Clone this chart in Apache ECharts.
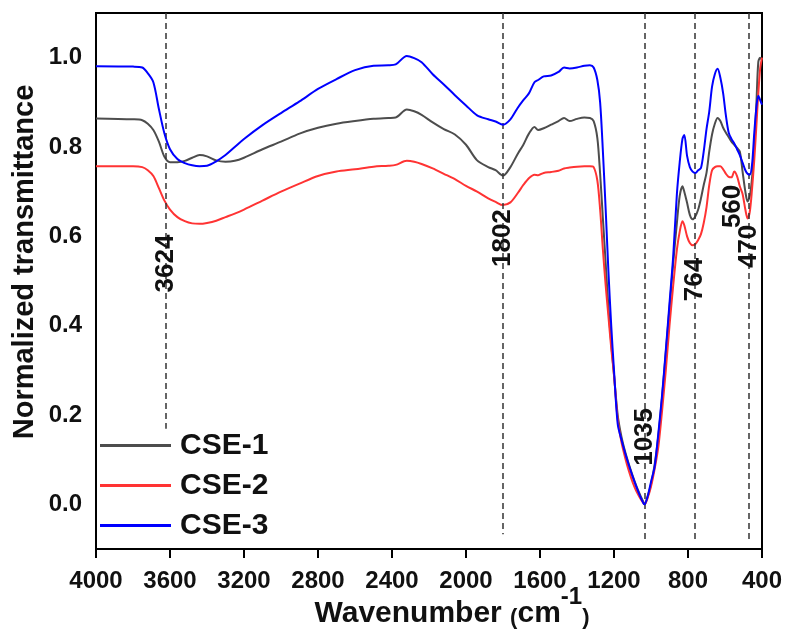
<!DOCTYPE html>
<html>
<head>
<meta charset="utf-8">
<script src="https://cdn.jsdelivr.net/npm/echarts@6/dist/echarts.min.js"></script>
<style>
  html, body { margin: 0; padding: 0; background: #fff; }
  #chart { width: 788px; height: 630px; }
</style>
</head>
<body>
<div id="chart"></div>
<script>
// FTIR spectra of three CSE samples (normalized transmittance vs wavenumber)
const wavenumbers = [4000, 3800, 3750, 3720, 3690, 3660, 3630, 3600, 3560, 3520, 3480, 3440, 3400, 3350, 3300, 3250, 3200, 3100, 3000, 2900, 2800, 2700, 2600, 2500, 2420, 2380, 2320, 2280, 2240, 2180, 2120, 2060, 2000, 1940, 1880, 1840, 1800, 1760, 1720, 1690, 1660, 1630, 1610, 1580, 1540, 1500, 1470, 1440, 1400, 1360, 1330, 1310, 1290, 1275, 1260, 1245, 1230, 1215, 1200, 1180, 1160, 1140, 1120, 1100, 1080, 1060, 1040, 1035, 1020, 1000, 980, 960, 940, 920, 900, 880, 860, 845, 830, 820, 805, 790, 775, 760, 745, 730, 715, 700, 685, 670, 655, 640, 625, 610, 595, 580, 565, 550, 535, 520, 505, 490, 478, 466, 454, 442, 430, 420, 410, 400];

const cse1 = [0.864, 0.862, 0.860, 0.852, 0.838, 0.812, 0.778, 0.766, 0.766, 0.769, 0.776, 0.782, 0.779, 0.770, 0.767, 0.769, 0.776, 0.795, 0.812, 0.830, 0.843, 0.852, 0.858, 0.863, 0.865, 0.866, 0.884, 0.880, 0.872, 0.855, 0.840, 0.828, 0.805, 0.770, 0.755, 0.748, 0.736, 0.755, 0.785, 0.805, 0.830, 0.845, 0.838, 0.842, 0.850, 0.858, 0.865, 0.858, 0.863, 0.866, 0.865, 0.858, 0.820, 0.740, 0.640, 0.540, 0.440, 0.360, 0.290, 0.200, 0.152, 0.118, 0.090, 0.065, 0.042, 0.022, 0.004, 0.000, 0.015, 0.045, 0.090, 0.155, 0.240, 0.340, 0.440, 0.540, 0.630, 0.690, 0.712, 0.700, 0.675, 0.648, 0.638, 0.645, 0.660, 0.685, 0.715, 0.742, 0.790, 0.828, 0.852, 0.865, 0.858, 0.843, 0.832, 0.822, 0.812, 0.805, 0.798, 0.790, 0.745, 0.700, 0.678, 0.690, 0.730, 0.800, 0.900, 0.990, 1.000, 0.995];

const cse2 = [0.757, 0.757, 0.755, 0.748, 0.735, 0.708, 0.680, 0.660, 0.643, 0.634, 0.629, 0.628, 0.630, 0.635, 0.643, 0.651, 0.660, 0.680, 0.700, 0.718, 0.735, 0.745, 0.750, 0.756, 0.758, 0.760, 0.769, 0.767, 0.762, 0.752, 0.740, 0.728, 0.713, 0.700, 0.685, 0.677, 0.670, 0.676, 0.697, 0.715, 0.730, 0.738, 0.737, 0.742, 0.744, 0.747, 0.752, 0.754, 0.756, 0.757, 0.757, 0.755, 0.725, 0.660, 0.570, 0.490, 0.420, 0.350, 0.290, 0.190, 0.140, 0.105, 0.075, 0.050, 0.030, 0.015, 0.002, 0.000, 0.012, 0.040, 0.080, 0.130, 0.210, 0.300, 0.400, 0.490, 0.570, 0.610, 0.634, 0.625, 0.600, 0.585, 0.580, 0.583, 0.592, 0.605, 0.630, 0.665, 0.715, 0.748, 0.755, 0.757, 0.757, 0.750, 0.740, 0.733, 0.732, 0.745, 0.735, 0.712, 0.695, 0.660, 0.640, 0.655, 0.705, 0.770, 0.850, 0.920, 0.975, 1.000];

const cse3 = [0.981, 0.980, 0.978, 0.965, 0.945, 0.885, 0.830, 0.795, 0.773, 0.764, 0.759, 0.757, 0.758, 0.768, 0.782, 0.800, 0.818, 0.849, 0.876, 0.902, 0.930, 0.952, 0.972, 0.982, 0.983, 0.985, 1.004, 0.999, 0.990, 0.963, 0.940, 0.916, 0.893, 0.871, 0.862, 0.857, 0.850, 0.862, 0.888, 0.905, 0.920, 0.945, 0.950, 0.958, 0.960, 0.968, 0.978, 0.976, 0.978, 0.982, 0.983, 0.978, 0.950, 0.900, 0.790, 0.660, 0.520, 0.400, 0.300, 0.180, 0.145, 0.115, 0.088, 0.063, 0.040, 0.019, 0.002, 0.000, 0.015, 0.050, 0.085, 0.160, 0.245, 0.345, 0.450, 0.555, 0.695, 0.765, 0.818, 0.827, 0.780, 0.755, 0.745, 0.742, 0.748, 0.753, 0.790, 0.840, 0.880, 0.935, 0.963, 0.975, 0.955, 0.920, 0.870, 0.832, 0.818, 0.808, 0.795, 0.782, 0.765, 0.748, 0.740, 0.738, 0.760, 0.830, 0.890, 0.915, 0.905, 0.895];

const seriesNames = ['CSE-1', 'CSE-2', 'CSE-3'];
const seriesColors = ['#4d4d4d', '#ff3333', '#0000ff'];

// Band positions marked with dashed guides, and where each guide stops at the bottom
const bandLines = [3624, 1802, 1035, 764, 470];
const bandLineEnds = [0.169, -0.067, -0.08, -0.085, -0.08];

// Band annotations (wavenumber, vertical centre of the rotated label)
const bandLabelX = [3624, 1802, 1035, 764, 560, 470];
const bandLabelY = [0.539, 0.596, 0.151, 0.492, 0.667, 0.573];
const bandLabelShift = [0, 0, 0, 5, 0, 2];

const xTicks = [4000, 3600, 3200, 2800, 2400, 2000, 1600, 1200, 800, 400];
const yTicks = [0.0, 0.2, 0.4, 0.6, 0.8, 1.0];

const FONT = 'Liberation Sans, Arial, sans-serif';

const chart = echarts.init(document.getElementById('chart'), null, { renderer: 'canvas' });

const lineSeries = seriesNames.map((name, i) => {
  const vals = [cse1, cse2, cse3][i];
  return {
    name: name,
    type: 'line',
    data: wavenumbers.map((w, k) => [w, vals[k]]),
    showSymbol: false,
    smooth: 0.3,
    color: seriesColors[i],
    lineStyle: { width: 2, color: seriesColors[i] },
    z: 3 + i
  };
});

const guideSeries = {
  name: 'guides',
  type: 'line',
  data: [],
  silent: true,
  markLine: {
    silent: true,
    symbol: ['none', 'none'],
    label: { show: false },
    lineStyle: { type: [6, 4], color: '#333', width: 1.5 },
    data: bandLines.map((w, i) => [
      { coord: [w, 1.1] },
      { coord: [w, bandLineEnds[i]] }
    ])
  },
  z: 2
};

const labelSeries = {
  name: 'bands',
  type: 'scatter',
  silent: true,
  symbolSize: 0,
  itemStyle: { opacity: 1 },
  data: bandLabelX.map((w, i) => [w, bandLabelY[i]]),
  label: {
    show: true,
    position: 'inside',
    rotate: 90,
    formatter: p => String(p.value[0]),
    fontFamily: FONT,
    fontWeight: 'bold',
    fontSize: 26,
    color: '#111',
    opacity: 1,
    textBorderWidth: 0
  },
  labelLayout: p => ({ dx: bandLabelShift[p.dataIndex] }),
  z: 10
};

chart.setOption({
  animation: false,
  backgroundColor: '#fff',
  grid: {
    left: 96, right: 26, top: 13, bottom: 81,
    containLabel: false,
    outerBoundsMode: 'none',
    show: true, borderColor: '#000', borderWidth: 2
  },
  legend: {
    data: seriesNames,
    orient: 'vertical',
    left: 100,
    top: 430,
    padding: 0,
    icon: 'rect',
    itemWidth: 71,
    itemHeight: 3,
    itemGap: 9,
    textStyle: {
      fontFamily: FONT, fontWeight: 'bold', fontSize: 30, color: '#111',
      lineHeight: 31, padding: [0, 0, 0, 4]
    }
  },
  xAxis: {
    type: 'value',
    inverse: true,
    min: 400,
    max: 4000,
    interval: 400,
    name: '{a|Wavenumber }{p|(}{a|cm}{s|-1}{p|)}',
    nameLocation: 'middle',
    nameGap: 36,
    nameMoveOverlap: false,
    nameTextStyle: {
      padding: [0, 0, 0, 46],
      rich: {
        a: { fontFamily: FONT, fontWeight: 'bold', fontSize: 30, color: '#111', verticalAlign: 'bottom', lineHeight: 34 },
        p: { fontFamily: FONT, fontWeight: 'bold', fontSize: 22, color: '#111', verticalAlign: 'bottom', lineHeight: 30 },
        s: { fontFamily: FONT, fontWeight: 'bold', fontSize: 24, color: '#111', verticalAlign: 'top', lineHeight: 44 }
      }
    },
    axisLine: { show: true, onZero: false, lineStyle: { color: '#000', width: 2 } },
    axisTick: { show: true, inside: false, length: 9, lineStyle: { color: '#000', width: 2 } },
    axisLabel: {
      margin: 20,
      fontFamily: FONT, fontWeight: 'bold', fontSize: 24, color: '#111',
      formatter: v => (xTicks.indexOf(v) >= 0 ? String(v) : '')
    },
    splitLine: { show: false }
  },
  yAxis: {
    type: 'value',
    min: -0.1,
    max: 1.1,
    interval: 0.1,
    name: 'Normalized transmittance',
    nameLocation: 'middle',
    nameRotate: 90,
    nameGap: 57,
    nameMoveOverlap: false,
    nameTextStyle: {
      fontFamily: FONT, fontWeight: 'bold', fontSize: 29, color: '#111',
      padding: [0, 0, 0, 38]
    },
    axisLine: { show: true, onZero: false, lineStyle: { color: '#000', width: 2 } },
    axisTick: { show: false },
    axisLabel: {
      margin: 14,
      fontFamily: FONT, fontWeight: 'bold', fontSize: 24, color: '#111',
      formatter: v => {
        const r = Math.round(v * 10) / 10;
        return yTicks.some(t => Math.abs(t - r) < 1e-6) ? r.toFixed(1) : '';
      }
    },
    splitLine: { show: false }
  },
  series: [guideSeries, ...lineSeries, labelSeries]
});
</script>
</body>
</html>
